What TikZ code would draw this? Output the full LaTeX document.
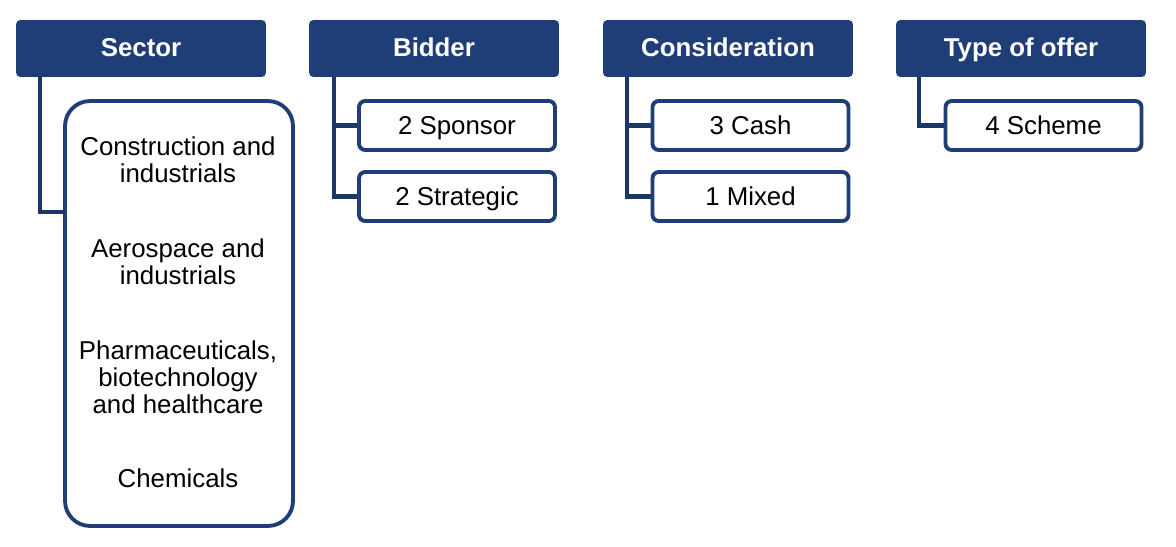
\documentclass[tikz,border=0pt]{standalone}
\usepackage{fontspec}
\setmainfont{Liberation Sans}
\usepackage{xcolor}
\usepackage{tikz}

\definecolor{navy}{HTML}{1F3E78}
\definecolor{navyline}{HTML}{1B3768}

\tikzset{
  head/.style={fill=navy, text=white, rounded corners=2.5pt,
    minimum width=5cm, minimum height=1.14cm, inner sep=0pt,
    text height=10.5pt, text depth=1.5pt,
    font=\fontsize{14.7}{15.5}\selectfont\bfseries},
  itembox/.style={draw=navy, line width=2.2pt, fill=white, rounded corners=3.5pt,
    minimum width=3.92cm, minimum height=0.98cm, inner sep=0pt,
    text height=10.5pt, text depth=0pt,
    font=\fontsize{14.7}{15.5}\selectfont},
  listbox/.style={draw=navy, line width=2.2pt, fill=white, rounded corners=0.5cm,
    minimum width=4.56cm, minimum height=8.5cm, inner sep=0pt},
  listitem/.style={align=center, inner sep=0pt,
    font=\fontsize{14.7}{15.5}\selectfont},
  link/.style={draw=navyline, line width=2.3pt}
}

\begin{document}
\begin{tikzpicture}[x=0.02cm, y=-0.02cm]
    \useasboundingbox[fill=white] (0, 0) rectangle (1176, 547);

    % headers
    \node[head] (sector) at (141, 48.5) {Sector};
    \node[head] (bidder) at (434, 48.5) {Bidder};
    \node[head] (consideration) at (728, 48.5) {Consideration};
    \node[head] (offer) at (1021, 48.5) {Type of offer};

    % sector column
    \node[listbox] (sectorlist) at (179, 313.5) {};
    \coordinate (sectorjoin) at (65, 212);
    \draw[link] ([xshift=0.48cm]sector.south west) |- (sectorjoin);
    \node[listitem] (construction) at (178, 159.5) {Construction and\\industrials};
    \node[listitem] (aerospace) at (178, 261.5) {Aerospace and\\industrials};
    \node[listitem] (pharma) at (178, 377) {Pharmaceuticals,\\biotechnology\\and healthcare};
    \node[listitem] (chemicals) at (178, 478) {Chemicals};

    % bidder column
    \node[itembox] (sponsor) at (457, 125.5) {2 Sponsor};
    \node[itembox] (strategic) at (457, 196.5) {2 Strategic};
    \draw[link] ([xshift=0.5cm]bidder.south west) |- (sponsor.west);
    \draw[link] ([xshift=0.5cm]bidder.south west) |- (strategic.west);

    % consideration column
    \node[itembox] (cash) at (750.5, 125.5) {3 Cash};
    \node[itembox] (mixed) at (750.5, 196.5) {1 Mixed};
    \draw[link] ([xshift=0.48cm]consideration.south west) |- (cash.west);
    \draw[link] ([xshift=0.48cm]consideration.south west) |- (mixed.west);

    % type of offer column
    \node[itembox] (scheme) at (1043.5, 125.5) {4 Scheme};
    \draw[link] ([xshift=0.46cm]offer.south west) |- (scheme.west);

\end{tikzpicture}
\end{document}
